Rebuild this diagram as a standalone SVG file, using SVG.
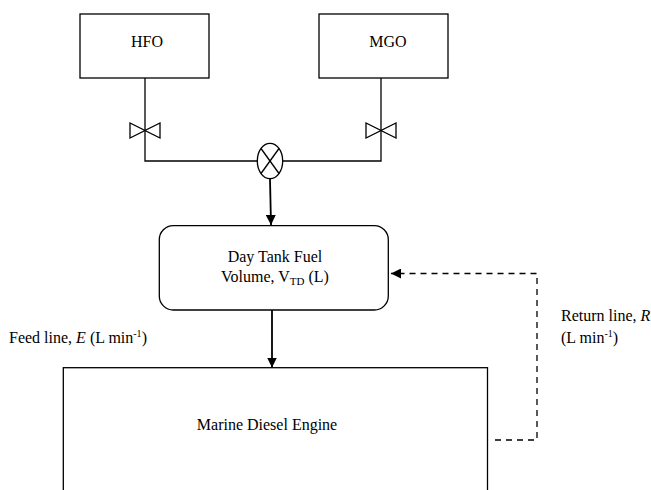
<svg xmlns="http://www.w3.org/2000/svg" width="651" height="490" viewBox="0 0 651 490">
<style>
.box{fill:#fff;stroke:#000;stroke-width:1.3}
.ln{fill:none;stroke:#000;stroke-width:1.3}
.arr{fill:none;stroke:#000;stroke-width:1.8}
.dash{fill:none;stroke:#000;stroke-width:1.3;stroke-dasharray:6,5}
.valve{fill:#fff;stroke:#000;stroke-width:1.3;stroke-linejoin:miter}
text{font-family:"Liberation Serif","Times New Roman",serif;font-size:16px;fill:#000}
.c{text-anchor:middle}
</style>
<defs>
<marker id="ah" viewBox="0 0 10 10" refX="10" refY="5" markerWidth="10" markerHeight="10" markerUnits="userSpaceOnUse" orient="auto">
<path d="M0,0 L10,5 L0,10 Z" fill="#000"/>
</marker>
</defs>
<rect width="651" height="490" fill="#fff"/>
<g id="connectors">
<path class="ln" d="M145,78 V161 H257.3"/>
<path class="ln" d="M381,78 V161 H282.7"/>
<path class="arr" d="M270,179 L271,225" marker-end="url(#ah)"/>
<path class="arr" d="M272,310 V367.5" marker-end="url(#ah)"/>
<path class="dash" d="M495,440 H537 V273.5 H391" marker-end="url(#ah)"/>
</g>
<g id="valve-hfo">
<polygon class="valve" points="130,123 130,138 145,130.5"/>
<polygon class="valve" points="160,123 160,138 145,130.5"/>
</g>
<g id="valve-mgo">
<polygon class="valve" points="366,123 366,138 381,130.5"/>
<polygon class="valve" points="396,123 396,138 381,130.5"/>
</g>
<g id="mixer">
<ellipse class="valve" cx="270" cy="161" rx="12.7" ry="17.7"/>
<line class="ln" x1="261" y1="148.5" x2="279" y2="173.5"/>
<line class="ln" x1="279" y1="148.5" x2="261" y2="173.5"/>
</g>
<g id="hfo">
<rect class="box" x="80" y="14" width="129" height="64"/>
<text class="c" x="147" y="47">HFO</text>
</g>
<g id="mgo">
<rect class="box" x="319" y="14" width="129" height="64"/>
<text class="c" x="388" y="47">MGO</text>
</g>
<g id="daytank">
<rect class="box" x="159.3" y="225.7" width="229" height="84.3" rx="14" ry="14"/>
<text class="c" x="275" y="262">Day Tank Fuel</text>
<text class="c" x="275" y="282">Volume, V<tspan font-size="11" dy="3">TD</tspan><tspan dy="-3"> (L)</tspan></text>
</g>
<g id="engine">
<rect class="box" x="63.3" y="367.7" width="424.2" height="130"/>
<text class="c" x="267" y="430">Marine Diesel Engine</text>
</g>
<g id="labels">
<text x="9" y="343">Feed line, <tspan font-style="italic">E</tspan> (L min<tspan font-size="10" dy="-6">-1</tspan><tspan dy="6">)</tspan></text>
<text x="561" y="321">Return line, <tspan font-style="italic">R</tspan></text>
<text x="561" y="343">(L min<tspan font-size="10" dy="-6">-1</tspan><tspan dy="6">)</tspan></text>
</g>
</svg>
